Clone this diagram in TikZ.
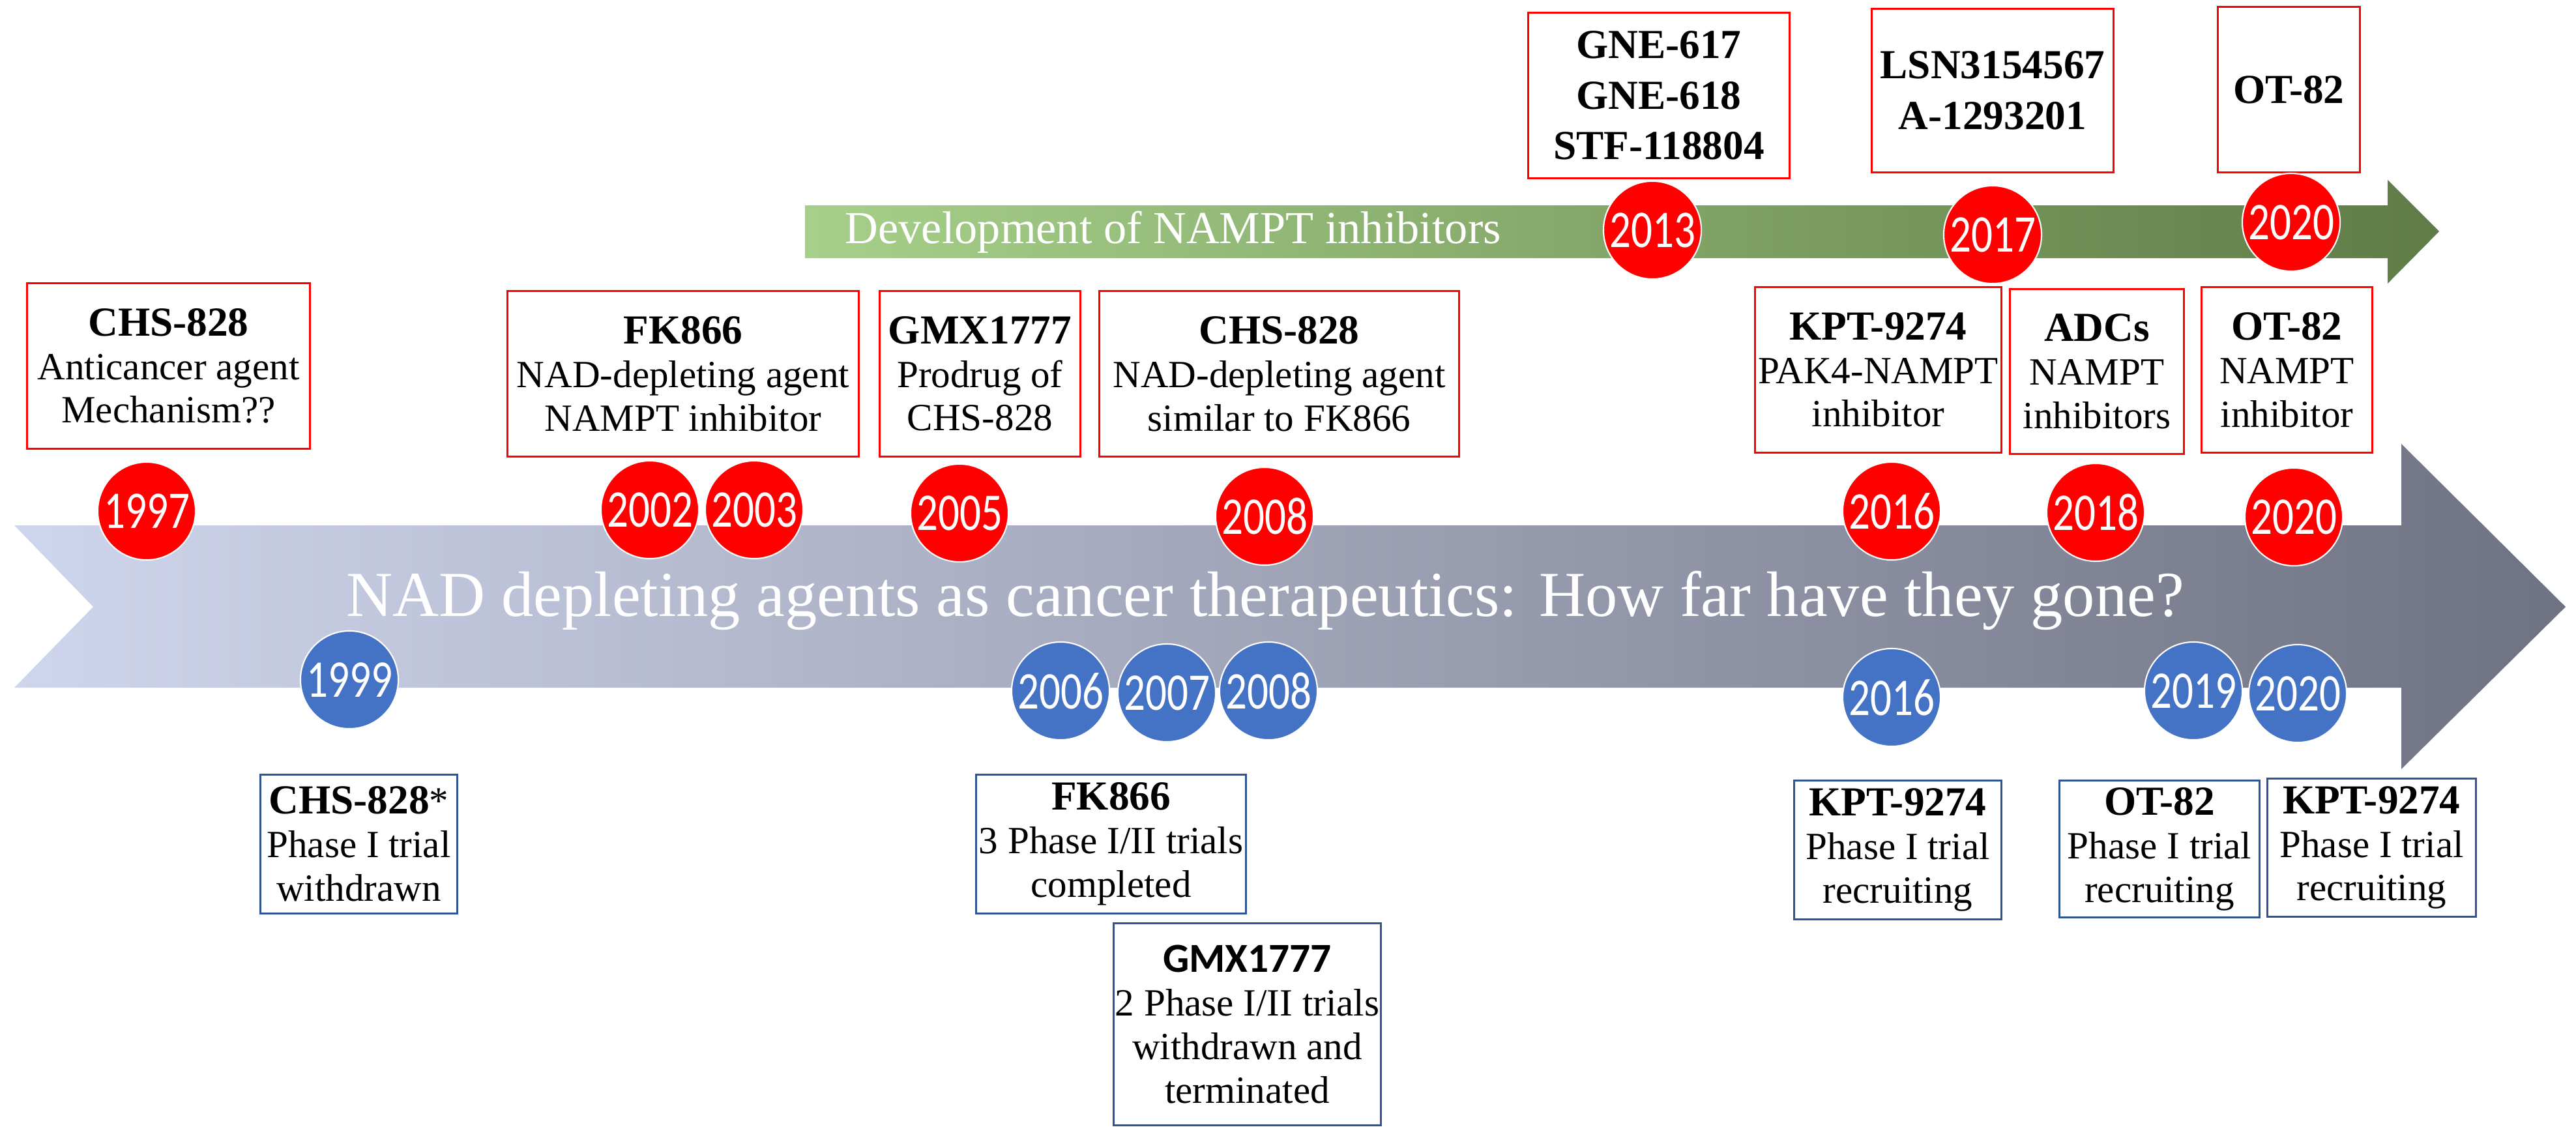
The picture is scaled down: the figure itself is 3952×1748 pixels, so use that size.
\documentclass[tikz,border=0pt]{standalone}
\usepackage{graphicx}
\usepackage{fontspec}
\setmainfont{Liberation Serif}
\newfontfamily\yearfont{Carlito}

\definecolor{yrred}{RGB}{255,0,0}
\definecolor{yrblue}{HTML}{4472C4}
\definecolor{boxblue}{HTML}{2F5597}
\definecolor{arrowlight}{HTML}{CFD5EC}
\definecolor{arrowdark}{HTML}{6F7282}
\definecolor{greenlight}{HTML}{A6D08A}
\definecolor{greendark}{HTML}{5F7C46}

\newcommand{\hd}[1]{{\fontsize{18}{19}\selectfont\bfseries #1}}
\newcommand{\yr}[1]{\scalebox{1}[1.25]{#1}}

\begin{document}
\begin{tikzpicture}[x=0.01cm, y=-0.01cm,
  redyear/.style={circle, fill=yrred, draw=white, line width=0.6pt, text=white,
    minimum size=1.5cm, inner sep=0pt, font=\yearfont\fontsize{18.5}{18.5}\selectfont},
  blueyear/.style={redyear, fill=yrblue},
  redbox/.style={draw=red, line width=0.85pt, fill=white, align=center, inner sep=0pt,
    font=\fontsize{16.8}{19}\selectfont},
  bluebox/.style={redbox, draw=boxblue},
  boxsize/.style 2 args={minimum width=#1, minimum height=#2}]
  \useasboundingbox (0,0) rectangle (3952,1748);

  % big arrow
  \shade[left color=arrowlight, right color=arrowdark]
    (22,806) -- (3684,806) -- (3684,681) -- (3936,931) -- (3684,1180)
    -- (3684,1055) -- (22,1055) -- (143,931) -- cycle;
  \node[anchor=base west, text=white, inner sep=0pt, font=\fontsize{28}{28}\selectfont]
    (title) at (531,945) {NAD depleting agents as cancer therapeutics: How far have they gone?};

  % green arrow
  \shade[left color=greenlight, right color=greendark]
    (1235,315) -- (3663,315) -- (3663,276) -- (3742,355) -- (3663,435)
    -- (3663,396) -- (1235,396) -- cycle;
  \node[anchor=base west, text=white, inner sep=0pt, font=\fontsize{20}{20}\selectfont]
    (devtxt) at (1296,373) {Development of NAMPT inhibitors};

  % boxes above the big arrow
  \node[redbox, boxsize={4.33cm}{2.53cm}] (chsA) at (258.5,561.5)
    {\hd{CHS-828}\\ Anticancer agent\\ Mechanism??};
  \node[redbox, boxsize={5.38cm}{2.53cm}] (fkA) at (1048,573.5)
    {\hd{FK866}\\ NAD-depleting agent\\ NAMPT inhibitor};
  \node[redbox, boxsize={3.07cm}{2.53cm}] (gmxA) at (1503.5,573.5)
    {\hd{GMX1777}\\ Prodrug of\\ CHS-828};
  \node[redbox, boxsize={5.51cm}{2.53cm}] (chsB) at (1962.5,573.5)
    {\hd{CHS-828}\\ NAD-depleting agent\\ similar to FK866};
  \node[redbox, boxsize={3.77cm}{2.53cm}] (kptA) at (2881.5,567.5)
    {\hd{KPT-9274}\\ PAK4-NAMPT\\ inhibitor};
  \node[redbox, boxsize={2.66cm}{2.52cm}] (adcA) at (3217,570)
    {\hd{ADCs}\\ NAMPT\\ inhibitors};
  \node[redbox, boxsize={2.61cm}{2.53cm}] (otA) at (3508.5,567.5)
    {\hd{OT-82}\\ NAMPT\\ inhibitor};

  % boxes above the green arrow
  \node[redbox, boxsize={4.00cm}{2.53cm}] (gne) at (2545,146.5)
    {\hd{GNE-617}\\[3pt] \hd{GNE-618}\\[3pt] \hd{STF-118804}};
  \node[redbox, boxsize={3.70cm}{2.50cm}] (lsn) at (3057,139)
    {\hd{LSN3154567}\\[3pt] \hd{A-1293201}};
  \node[redbox, boxsize={2.17cm}{2.53cm}] (otTop) at (3511.5,137.5)
    {\hd{OT-82}};

  % trial boxes below the big arrow
  \node[bluebox, boxsize={3.01cm}{2.12cm}] (chsT) at (550.5,1295)
    {\hd{CHS-828}*\\ Phase I trial\\ withdrawn};
  \node[bluebox, boxsize={4.13cm}{2.12cm}] (fkT) at (1704.5,1295)
    {\hd{FK866}\\ 3 Phase I/II trials\\ completed};
  \node[bluebox, boxsize={4.09cm}{3.09cm}] (gmxT) at (1913.5,1571.5)
    {{\yearfont\fontsize{18}{19}\selectfont\bfseries GMX1777}\\ 2 Phase I/II trials\\ withdrawn and\\ terminated};
  \node[bluebox, boxsize={3.17cm}{2.12cm}] (kptT) at (2911.5,1304)
    {\hd{KPT-9274}\\ Phase I trial\\ recruiting};
  \node[bluebox, boxsize={3.06cm}{2.09cm}] (otT) at (3313,1302.5)
    {\hd{OT-82}\\ Phase I trial\\ recruiting};
  \node[bluebox, boxsize={3.19cm}{2.11cm}] (kptT2) at (3638.5,1300.5)
    {\hd{KPT-9274}\\ Phase I trial\\ recruiting};

  % years on the green arrow
  \node[redyear] (g2013) at (2535,353) {\yr{2013}};
  \node[redyear] (g2017) at (3057,360) {\yr{2017}};
  \node[redyear] (g2020) at (3515,341) {\yr{2020}};

  % years above the big arrow
  \node[redyear] (r1997) at (225,784) {\yr{1997}};
  \node[redyear] (r2002) at (997,782) {\yr{2002}};
  \node[redyear] (r2003) at (1157,782) {\yr{2003}};
  \node[redyear] (r2005) at (1472,787) {\yr{2005}};
  \node[redyear] (r2008) at (1940,792) {\yr{2008}};
  \node[redyear] (r2016) at (2902,784) {\yr{2016}};
  \node[redyear] (r2018) at (3215,786) {\yr{2018}};
  \node[redyear] (r2020) at (3519,793) {\yr{2020}};

  % years below the big arrow
  \node[blueyear] (b1999) at (536,1043) {\yr{1999}};
  \node[blueyear] (b2006) at (1627,1060) {\yr{2006}};
  \node[blueyear] (b2007) at (1790,1063) {\yr{2007}};
  \node[blueyear] (b2008) at (1946,1060) {\yr{2008}};
  \node[blueyear] (b2016) at (2902,1070) {\yr{2016}};
  \node[blueyear] (b2019) at (3365,1060) {\yr{2019}};
  \node[blueyear] (b2020) at (3525,1064) {\yr{2020}};

\end{tikzpicture}
\end{document}
